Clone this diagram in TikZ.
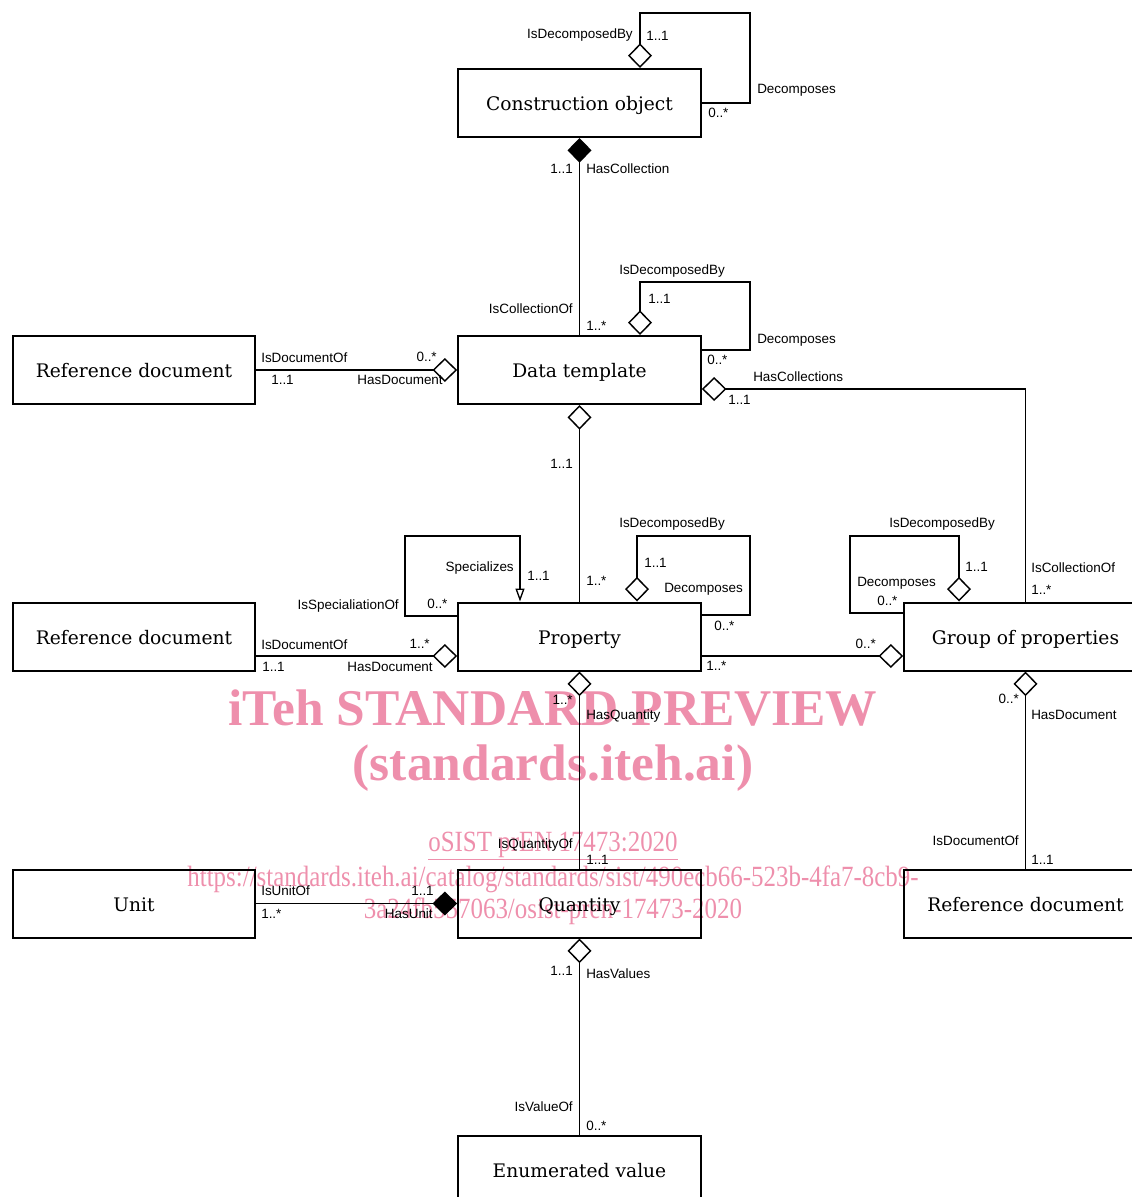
\documentclass[tikz,border=0pt]{standalone}
\usepackage{fontspec}
\usetikzlibrary{arrows.meta}
\newfontfamily\lbf{Liberation Sans}
\newfontfamily\bxf{DejaVu Serif}
\newfontfamily\wmf{Liberation Serif}
\definecolor{wmpink}{RGB}{238,143,172}
\tikzset{
  box/.style={draw, line width=1.5pt, minimum width=182pt, minimum height=51pt, inner sep=0pt, text height=12.7pt, text depth=1pt, font=\bxf\fontsize{14pt}{16pt}\selectfont},
  lbl/.style={inner sep=0pt, text height=7.4pt, text depth=2pt, yshift=-1.3pt, font=\lbf\fontsize{10.1pt}{12pt}\selectfont},
  conn/.style={line width=1.1pt},
  odia/.tip={Diamond[fill=white,length=18.5pt,width=18pt,line width=1.1pt]},
  fdia/.tip={Diamond[length=18.5pt,width=18pt]},
  otri/.tip={Triangle[fill=white,length=9.75pt,width=6.75pt,line width=1pt]},
  wm/.style={inner sep=0pt, text=wmpink}
}
\begin{document}
\begin{tikzpicture}[x=0.75pt,y=-0.75pt]
\useasboundingbox (0,0) rectangle (1132,1197);
% watermark
\node[wm, font=\wmf\bfseries\fontsize{38.6pt}{40pt}\selectfont] (w1) at (553,708) {iTeh STANDARD PREVIEW};
\node[wm, font=\wmf\bfseries\fontsize{38.6pt}{40pt}\selectfont] (w2) at (553,768) {(standards.iteh.ai)};
\node[wm, font=\wmf\fontsize{22pt}{24pt}\selectfont] (w3) at (553,846) {\scalebox{0.85}[1]{\underline{oSIST prEN 17473:2020}}};
\node[wm, font=\wmf\fontsize{22pt}{24pt}\selectfont] (w4) at (553,879) {\scalebox{0.85}[1]{https://standards.iteh.ai/catalog/standards/sist/490ecb66-523b-4fa7-8cb9-}};
\node[wm, font=\wmf\fontsize{22pt}{24pt}\selectfont] (w5) at (553,911) {\scalebox{0.85}[1]{3a24fb557063/osist-pren-17473-2020}};
% boxes
\node[box] (co) at (579.5,103) {Construction object};
\node[box] (dt) at (579.5,370) {Data template};
\node[box] (rd1) at (134,370) {Reference document};
\node[box] (prop) at (579.5,636.5) {Property};
\node[box] (rd2) at (134,636.5) {Reference document};
\node[box] (gop) at (1025.5,636.5) {Group of properties};
\node[box] (unit) at (134,903.5) {Unit};
\node[box] (qty) at (579.5,903.5) {Quantity};
\node[box] (rd3) at (1025.5,903.5) {Reference document};
\node[box] (ev) at (579.5,1170) {Enumerated value};
% connectors
\draw[conn, odia-] (co.north -| 640,0) -- (640,13) -- (750,13) -- (750,103) -- (co.east);
\draw[conn, fdia-] (co.south) -- (dt.north);
\draw[conn, odia-] (dt.north -| 640,0) -- (640,282) -- (750,282) -- (750,350) -- (dt.east |- 0,350);
\draw[conn, -odia] (rd1.east) -- (dt.west);
\coordinate (c1) at (1025.5,389);
\draw[conn, odia-] (dt.east |- c1) -- (c1) -- (gop.north);
\draw[conn, odia-] (dt.south) -- (prop.north);
\draw[conn, -otri] (prop.west |- 0,616) -- (405,616) -- (405,536) -- (520,536) -- (prop.north -| 520,0);
\draw[conn, odia-] (prop.north -| 637,0) -- (637,536) -- (750,536) -- (750,615) -- (prop.east |- 0,615);
\draw[conn, -odia] (rd2.east |- 0,656) -- (prop.west |- 0,656);
\draw[conn, -odia] (prop.east |- 0,656) -- (gop.west |- 0,656);
\draw[conn, -odia] (gop.west |- 0,613) -- (850,613) -- (850,536) -- (959,536) -- (gop.north -| 959,0);
\draw[conn, odia-] (gop.south) -- (rd3.north);
\draw[conn, odia-] (prop.south) -- (qty.north);
\draw[conn, -fdia, line width=1.4pt] (unit.east) -- (qty.west);
\draw[conn, odia-] (qty.south) -- (ev.north);
% labels
\node[lbl, anchor=east] (a1) at (633,33) {IsDecomposedBy};
\node[lbl, anchor=west] (a2) at (646,35) {1..1};
\node[lbl, anchor=west] (a3) at (757,88) {Decomposes};
\node[lbl, anchor=west] (a4) at (708,112) {0..*};
\node[lbl, anchor=east] (b1) at (573,168) {1..1};
\node[lbl, anchor=west] (b2) at (586,168) {HasCollection};
\node[lbl, anchor=east] (b3) at (573,308) {IsCollectionOf};
\node[lbl, anchor=west] (b4) at (586,325) {1..*};
\node[lbl, anchor=west] (c2) at (619,269) {IsDecomposedBy};
\node[lbl, anchor=west] (c3) at (648,298) {1..1};
\node[lbl, anchor=west] (c4) at (757,338) {Decomposes};
\node[lbl, anchor=west] (c5) at (707,359) {0..*};
\node[lbl, anchor=west] (d1) at (261,357) {IsDocumentOf};
\node[lbl, anchor=west] (d2) at (271,379) {1..1};
\node[lbl, anchor=east] (d3) at (437,356) {0..*};
\node[lbl, anchor=east] (d4) at (443,379) {HasDocument};
\node[lbl, anchor=west] (e1) at (753,376) {HasCollections};
\node[lbl, anchor=west] (e2) at (728,399) {1..1};
\node[lbl, anchor=west] (e3) at (1031,567) {IsCollectionOf};
\node[lbl, anchor=west] (e4) at (1031,589) {1..*};
\node[lbl, anchor=east] (f1) at (573,463) {1..1};
\node[lbl, anchor=west] (f2) at (586,580) {1..*};
\node[lbl, anchor=east] (g1) at (514,566) {Specializes};
\node[lbl, anchor=west] (g2) at (527,575) {1..1};
\node[lbl, anchor=east] (g3) at (399,604) {IsSpecialiationOf};
\node[lbl, anchor=west] (g4) at (427,603) {0..*};
\node[lbl, anchor=west] (h1) at (619,522) {IsDecomposedBy};
\node[lbl, anchor=west] (h2) at (644,562) {1..1};
\node[lbl, anchor=west] (h3) at (664,587) {Decomposes};
\node[lbl, anchor=west] (h4) at (714,625) {0..*};
\node[lbl, anchor=west] (i1) at (261,644) {IsDocumentOf};
\node[lbl, anchor=west] (i2) at (262,666) {1..1};
\node[lbl, anchor=east] (i3) at (430,643) {1..*};
\node[lbl, anchor=east] (i4) at (433,666) {HasDocument};
\node[lbl, anchor=west] (j1) at (706,665) {1..*};
\node[lbl, anchor=east] (j2) at (876,643) {0..*};
\node[lbl, anchor=west] (k1) at (889,522) {IsDecomposedBy};
\node[lbl, anchor=west] (k2) at (965,566) {1..1};
\node[lbl, anchor=west] (k3) at (857,581) {Decomposes};
\node[lbl, anchor=west] (k4) at (877,600) {0..*};
\node[lbl, anchor=east] (m1) at (1019,698) {0..*};
\node[lbl, anchor=west] (m2) at (1031,714) {HasDocument};
\node[lbl, anchor=east] (m3) at (1019,840) {IsDocumentOf};
\node[lbl, anchor=west] (m4) at (1031,859) {1..1};
\node[lbl, anchor=east] (n1) at (573,699) {1..*};
\node[lbl, anchor=west] (n2) at (586,714) {HasQuantity};
\node[lbl, anchor=east] (n3) at (573,843) {IsQuantityOf};
\node[lbl, anchor=west] (n4) at (586,859) {1..1};
\node[lbl, anchor=west] (p1) at (261,890) {IsUnitOf};
\node[lbl, anchor=west] (p2) at (261,913) {1..*};
\node[lbl, anchor=east] (p3) at (434,890) {1..1};
\node[lbl, anchor=east] (p4) at (433,913) {HasUnit};
\node[lbl, anchor=east] (q1) at (573,970) {1..1};
\node[lbl, anchor=west] (q2) at (586,973) {HasValues};
\node[lbl, anchor=east] (q3) at (573,1106) {IsValueOf};
\node[lbl, anchor=west] (q4) at (586,1125) {0..*};
\end{tikzpicture}
\end{document}
